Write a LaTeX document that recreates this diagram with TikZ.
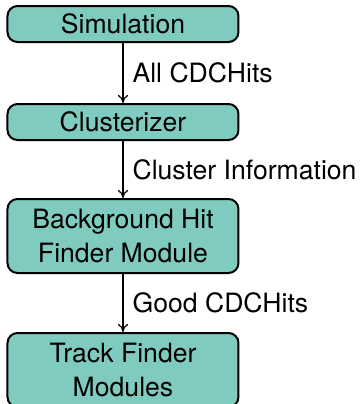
\documentclass[tikz,border=0pt]{standalone}
\usepackage{fontspec}
\setmainfont{TeX Gyre Heros}
\usetikzlibrary{arrows.meta}
\definecolor{boxfill}{RGB}{128,203,192}

\begin{document}
\begin{tikzpicture}[x=1pt,y=-1pt,
    modbox/.style={draw,line width=1pt,fill=boxfill,rounded corners=5pt,
      minimum width=115.5pt,align=center,inner sep=0pt,
      font=\fontsize{13.3}{17}\selectfont},
    flowlabel/.style={right=4.5pt,inner sep=0pt,font=\fontsize{13.3}{17}\selectfont},
    >={To[length=4pt,width=5pt]}]
  \useasboundingbox (0,0) rectangle (180,202);

  \node[modbox,minimum height=18pt] (sim) at (61.5,12) {Simulation};
  \node[modbox,minimum height=18pt] (clu) at (61.5,61) {Clusterizer};
  \node[modbox,minimum height=37pt] (bkg) at (61.5,118) {Background Hit\\Finder Module};
  \node[modbox,minimum height=37pt] (trk) at (61.5,185) {Track Finder\\Modules};

  \draw[->,line width=0.6pt] (sim) -- (clu) node[midway,flowlabel] {All CDCHits};
  \draw[->,line width=0.6pt] (clu) -- (bkg) node[midway,flowlabel] {Cluster Information};
  \draw[->,line width=0.6pt] (bkg) -- (trk) node[midway,flowlabel] {Good CDCHits};
\end{tikzpicture}
\end{document}
